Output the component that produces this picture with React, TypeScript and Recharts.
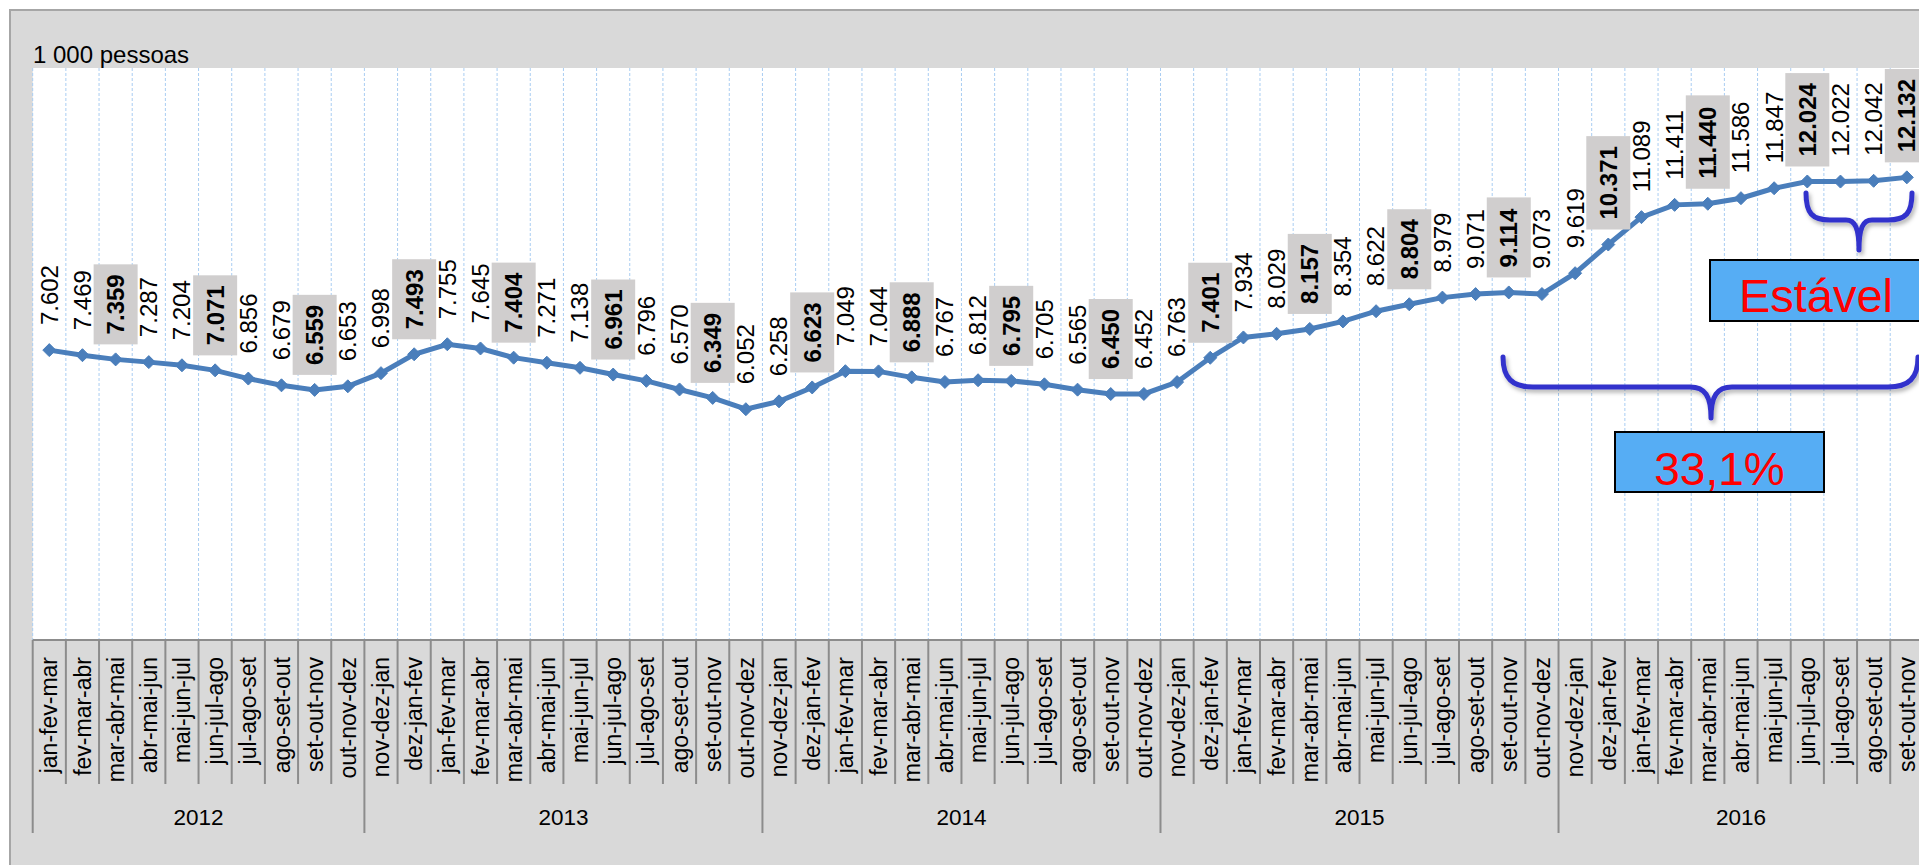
import { ComposedChart, Line, XAxis, YAxis, CartesianGrid, LabelList } from 'recharts'

// trimestres móveis, na ordem em que aparecem dentro de cada ano
const trimestresAno = [
  'nov-dez-jan', 'dez-jan-fev', 'jan-fev-mar', 'fev-mar-abr', 'mar-abr-mai', 'abr-mai-jun',
  'mai-jun-jul', 'jun-jul-ago', 'jul-ago-set', 'ago-set-out', 'set-out-nov', 'out-nov-dez',
]

const anos = ['2012', '2013', '2014', '2015', '2016']
const trimestresPorAno = [
  trimestresAno.slice(2),
  trimestresAno,
  trimestresAno,
  trimestresAno,
  trimestresAno.slice(0, 11),
]

// desocupados, em 1 000 pessoas
const valores2012 = [7602, 7469, 7359, 7287, 7204, 7071, 6856, 6679, 6559, 6653]
const valores2013 = [6998, 7493, 7755, 7645, 7404, 7271, 7138, 6961, 6796, 6570, 6349, 6052]
const valores2014 = [6258, 6623, 7049, 7044, 6888, 6767, 6812, 6795, 6705, 6565, 6450, 6452]
const valores2015 = [6763, 7401, 7934, 8029, 8157, 8354, 8622, 8804, 8979, 9071, 9114, 9073]
const valores2016 = [9619, 10371, 11089, 11411, 11440, 11586, 11847, 12024, 12022, 12042, 12132]
const valoresPorAno = [valores2012, valores2013, valores2014, valores2015, valores2016]

type Row = { i: number; periodo: string; ano: string; pos: number; tam: number; valor: number }

const data: Row[] = []
anos.forEach((ano, a) => {
  trimestresPorAno[a].forEach((periodo, pos) => {
    data.push({ i: data.length, periodo, ano, pos, tam: trimestresPorAno[a].length, valor: valoresPorAno[a][pos] })
  })
})

const W = 2000
const H = 865
const LEFT = 32.7
const RIGHT = 1923.4
const TOP = 68
const BW = (RIGHT - LEFT) / data.length
const FONT = "'Liberation Sans', Arial, sans-serif"
const LINE_COLOR = '#4a7ebb'

const fmt = (n: number) => Math.floor(n / 1000) + '.' + String(n % 1000).padStart(3, '0')

const CategoryTick = (props: any) => {
  const { x, y, payload } = props
  const row = data[payload.value]
  if (!row) return null
  const first = row.pos === 0
  const left = x - BW / 2
  return (
    <g>
      <line x1={left} y1={y} x2={left} y2={y + (first ? 193 : 144)} stroke="#8c8c8c" strokeWidth={2} />
      {row.i === data.length - 1 && (
        <line x1={x + BW / 2} y1={y} x2={x + BW / 2} y2={y + 193} stroke="#8c8c8c" strokeWidth={2} />
      )}
      <text
        x={x}
        y={y + 17}
        dy="0.35em"
        transform={`rotate(-90, ${x}, ${y + 17})`}
        textAnchor="end"
        fontFamily={FONT}
        fontSize={23}
        fill="#000"
      >
        {row.periodo}
      </text>
      {first && (
        <text
          x={left + (row.tam * BW) / 2}
          y={y + 177}
          dy="0.35em"
          textAnchor="middle"
          fontFamily={FONT}
          fontSize={22.5}
          fill="#000"
        >
          {row.ano}
        </text>
      )}
    </g>
  )
}

const ValueLabel = (props: any) => {
  const { x, y, value, index } = props
  if (x == null || y == null) return null
  const s = fmt(value)
  const destaque = index % 3 === 2
  const len = 24 * (0.556 * (s.length - 1) + 0.278)
  const by = y - 25
  return (
    <g>
      {destaque && <rect x={x - 22} y={by - len - 10} width={44} height={len + 20} fill="#d0cece" />}
      <text
        x={x}
        y={by}
        dy="0.35em"
        transform={`rotate(-90, ${x}, ${by})`}
        textAnchor="start"
        fontFamily={FONT}
        fontSize={24}
        fontWeight={destaque ? 'bold' : 'normal'}
        fill="#000"
      >
        {s}
      </text>
    </g>
  )
}

const Diamond = (props: any) => {
  const { cx, cy } = props
  if (cx == null || cy == null) return null
  const r = 6.5
  return (
    <polygon
      points={`${cx},${cy - r} ${cx + r},${cy} ${cx},${cy + r} ${cx - r},${cy}`}
      fill={LINE_COLOR}
      stroke={LINE_COLOR}
    />
  )
}

const braceStyle = {
  fill: 'none',
  stroke: '#3333cc',
  strokeWidth: 5,
  strokeLinecap: 'round' as const,
  strokeLinejoin: 'round' as const,
  filter: 'url(#sombra)',
}

export default function App() {
  return (
    <div style={{ position: 'absolute', left: 0, top: 0, width: 1919, height: 865, overflow: 'hidden', background: '#fff' }}>
      <div
        style={{
          position: 'absolute',
          left: 9,
          top: 9,
          width: 2000,
          height: 900,
          background: '#d9d9d9',
          borderTop: '2px solid #a6a6a6',
          borderLeft: '2px solid #a6a6a6',
        }}
      />
      <div style={{ position: 'absolute', left: 0, top: 0, width: W, height: H }}>
        <ComposedChart
          width={W}
          height={H}
          data={data}
          margin={{ top: TOP, right: W - RIGHT, bottom: 25, left: LEFT }}
        >
          <CartesianGrid
            horizontal={false}
            fill="#ffffff"
            stroke="#a9cdf2"
            strokeDasharray="3 2"
            verticalCoordinatesGenerator={({ offset }: any) =>
              Array.from({ length: data.length }, (_, k) => offset.left + (k * offset.width) / data.length)
            }
          />
          <XAxis
            dataKey="i"
            type="category"
            scale="band"
            interval={0}
            height={200}
            tickSize={0}
            tickMargin={0}
            tickLine={false}
            axisLine={{ stroke: '#8c8c8c', strokeWidth: 2 }}
            tick={<CategoryTick />}
          />
          <YAxis hide domain={[0, 15000]} />
          <Line
            dataKey="valor"
            stroke={LINE_COLOR}
            strokeWidth={5}
            dot={<Diamond />}
            activeDot={false}
            isAnimationActive={false}
          >
            <LabelList dataKey="valor" content={<ValueLabel />} />
          </Line>
        </ComposedChart>
      </div>
      <svg
        width={1919}
        height={865}
        style={{ position: 'absolute', left: 0, top: 0, pointerEvents: 'none' }}
      >
        <defs>
          <filter id="sombra" x="-10%" y="-30%" width="120%" height="160%">
            <feDropShadow dx="2" dy="3" stdDeviation="2" floodColor="#000" floodOpacity="0.3" />
          </filter>
        </defs>
        <text x={33} y={63} fontFamily={FONT} fontSize={24} fill="#000">
          1 000 pessoas
        </text>
        <path
          d="M1806,193 C1806,213 1812,220 1830,220 L1846,220 C1855,220 1859,228 1859,250 C1859,228 1863,220 1872,220 L1888,220 C1906,220 1912,213 1912,193"
          style={braceStyle}
        />
        <path
          d="M1503,357 C1503,378 1512,387 1533,387 L1690,387 C1705,387 1711,396 1711,418 C1711,396 1717,387 1732,387 L1888,387 C1909,387 1918,378 1918,357"
          style={braceStyle}
        />
        <rect x={1710} y={260} width={214} height={61} fill="#56adf4" stroke="#000" strokeWidth={2} />
        <text x={1816} y={312} textAnchor="middle" fontFamily={FONT} fontSize={47} fill="#ff0000">
          Estável
        </text>
        <rect x={1615} y={432} width={209} height={60} fill="#56adf4" stroke="#000" strokeWidth={2} />
        <text x={1719.5} y={485} textAnchor="middle" fontFamily={FONT} fontSize={46} fill="#ff0000">
          33,1%
        </text>
      </svg>
    </div>
  )
}
